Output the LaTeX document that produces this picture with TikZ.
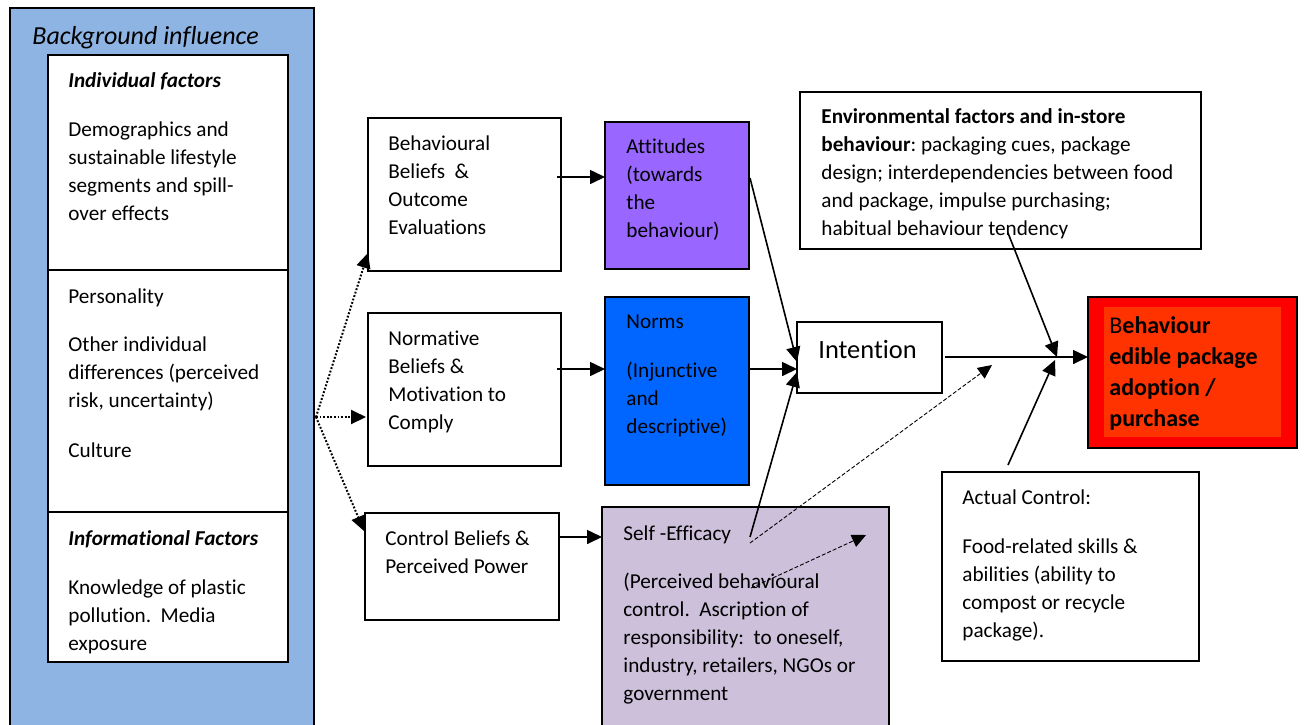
\documentclass[tikz,border=0pt]{standalone}
\usepackage{fontspec}
\setmainfont{Carlito}[Ligatures=NoCommon]
\usetikzlibrary{arrows.meta,calc}
\definecolor{bgblue}{HTML}{8EB4E3}
\definecolor{attpurple}{HTML}{9966FF}
\definecolor{normblue}{HTML}{0066FF}
\definecolor{selilac}{HTML}{CCC0DA}
\definecolor{redout}{HTML}{FF0000}
\definecolor{redin}{HTML}{FF3300}
\frenchspacing
\tikzset{
  box/.style={draw=black, line width=0.6pt, anchor=north west, inner sep=0pt, outer sep=0pt},
  txt/.style={anchor=north west, inner sep=0pt, align=left, font=\fontsize{10.6}{14}\selectfont},
  arr/.style={-{Triangle[length=7.5pt,width=7pt]}, line width=0.8pt},
  dotarr/.style={-{Triangle[length=7.5pt,width=7pt]}, line width=1pt, dash pattern=on 0.9pt off 0.9pt},
  dasharr/.style={-{Triangle[length=7pt,width=6.5pt]}, line width=0.45pt, dash pattern=on 2pt off 1pt},
}
\begin{document}
\begin{tikzpicture}[x=0.5pt,y=-0.5pt]
\useasboundingbox (0,0) rectangle (1304,724);
% left panel
\node[box, fill=bgblue, minimum width=152pt, minimum height=366pt] (panel) at (10,8) {};
\node[anchor=west, inner sep=0pt, font=\fontsize{13}{15}\selectfont\itshape] (bgtitle) at (32,38) {Background influence};
\node[box, fill=white, minimum width=120pt, minimum height=303.5pt] (inner) at (48,55) {};
\draw[line width=0.6pt] ($(inner.north west)+(0,215)$) -- ($(inner.north east)+(0,215)$);
\draw[line width=0.6pt] ($(inner.north west)+(0,457)$) -- ($(inner.north east)+(0,457)$);
\node[txt] (left1) at (68,72) {\textbf{\textit{Individual factors}}\\[10.5pt]Demographics and\\sustainable lifestyle\\segments and spill-\\over effects};
\node[txt] (left2) at (68,288) {Personality\\[10pt]Other individual\\differences (perceived\\risk, uncertainty)\\[11pt]Culture};
\node[txt] (left3) at (68,530) {\textbf{\textit{Informational Factors}}\\[10.5pt]Knowledge of plastic\\pollution.~~Media\\exposure};
% middle boxes
\node[box, fill=white, minimum width=96.5pt, minimum height=76.5pt] (beh) at (368,118) {};
\node[txt] (behtxt) at (388,135) {Behavioural\\Beliefs~~\&\\Outcome\\Evaluations};
\node[box, fill=attpurple, minimum width=72pt, minimum height=73.5pt] (att) at (605,122) {};
\node[txt] (atttxt) at (626,138) {Attitudes\\(towards\\the\\behaviour)};
\node[box, fill=white, minimum width=96.5pt, minimum height=76.5pt] (normb) at (368,313) {};
\node[txt] (normbtxt) at (388,331) {Normative\\Beliefs \&\\Motivation to\\Comply};
\node[box, fill=normblue, minimum width=72pt, minimum height=94pt] (norms) at (605,297) {};
\node[txt] (normstxt) at (626,314) {Norms\\[10.5pt](Injunctive\\and\\descriptive)};
\node[box, fill=white, minimum width=97pt, minimum height=53.5pt] (ctrl) at (365,513) {};
\node[txt] (ctrltxt) at (385,530) {Control Beliefs \&\\Perceived Power};
\node[box, fill=selilac, minimum width=143.5pt, minimum height=116.5pt] (se) at (602,507) {};
\node[txt] (setxt) at (623,525) {Self -Efficacy\\[10pt](Perceived behavioural\\control.~~Ascription of\\responsibility:~~to oneself,\\industry, retailers, NGOs or\\government};
% intention
\node[box, fill=white, minimum width=72.5pt, minimum height=35.5pt] (int) at (797,322) {};
\node[anchor=west, inner sep=0pt, font=\fontsize{13.2}{16}\selectfont] (inttxt) at (818,350) {Intention};
% environmental
\node[box, fill=white, minimum width=200.5pt, minimum height=78.5pt] (env) at (800,92) {};
\node[txt] (envtxt) at (821,108) {\textbf{Environmental factors and in-store}\\\textbf{behaviour}: packaging cues, package\\design; interdependencies between food\\and package, impulse purchasing;\\habitual behaviour tendency};
% behaviour
\node[box, fill=redout, minimum width=104.5pt, minimum height=75.5pt] (red) at (1088,297) {};
\node[anchor=north west, inner sep=0pt, fill=redin, minimum width=88.5pt, minimum height=65pt] (redfill) at (1104,307) {};
\node[txt, font=\fontsize{12}{15.5}\selectfont] (redtxt) at (1109,316) {B\textbf{ehaviour}\\\textbf{edible package}\\\textbf{adoption /}\\\textbf{purchase}};
% actual control
\node[box, fill=white, minimum width=128.5pt, minimum height=94.5pt] (act) at (942,472) {};
\node[txt] (acttxt) at (962,489) {Actual Control:\\[10.5pt]Food-related skills \&\\abilities (ability to\\compost or recycle\\package).};
% connectors
\coordinate (fork) at (316,417);
\draw[dotarr] (fork) -- ($(beh.south west)+(0,-18)$);
\draw[dotarr] (fork) -- ($(normb.south west)+(-2,-49)$);
\draw[dotarr] (fork) -- ($(ctrl.north west)+(-1,18)$);
\draw[arr] ($(beh.north east)+(-4,59)$) -- ($(att.north west)+(0,55)$);
\draw[arr] ($(normb.north east)+(-4,56)$) -- ($(norms.north west)+(0,72)$);
\draw[arr] ($(ctrl.north east)+(0,24)$) -- ($(se.north west)+(0,30)$);
\draw[arr] ($(norms.north east)+(0,72)$) -- ($(int.north west)+(0,47)$);
\draw[arr] ($(att.north east)+(1,56)$) -- ($(int.north west)+(0,40)$);
\draw[arr] ($(se.north west)+(148,30)$) -- ($(int.south west)+(0,-21)$);
\coordinate (dtip) at (992,365);
\draw[dasharr] ($(se.north west)+(148,36)$) -- (dtip);
\coordinate (d2start) at (751,588);
\coordinate (d2tip) at (866,535);
\draw[dasharr] (d2start) -- (d2tip);
\draw[arr] ($(int.north east)+(3,35)$) -- ($(red.north west)+(0,60)$);
\coordinate (jn1) at (1057,357);
\coordinate (jn2) at (1055,360);
\draw[arr] ($(env.south west)+(208,-16)$) -- (jn1);
\draw[arr] ($(act.north west)+(66,-7)$) -- (jn2);
\end{tikzpicture}
\end{document}
